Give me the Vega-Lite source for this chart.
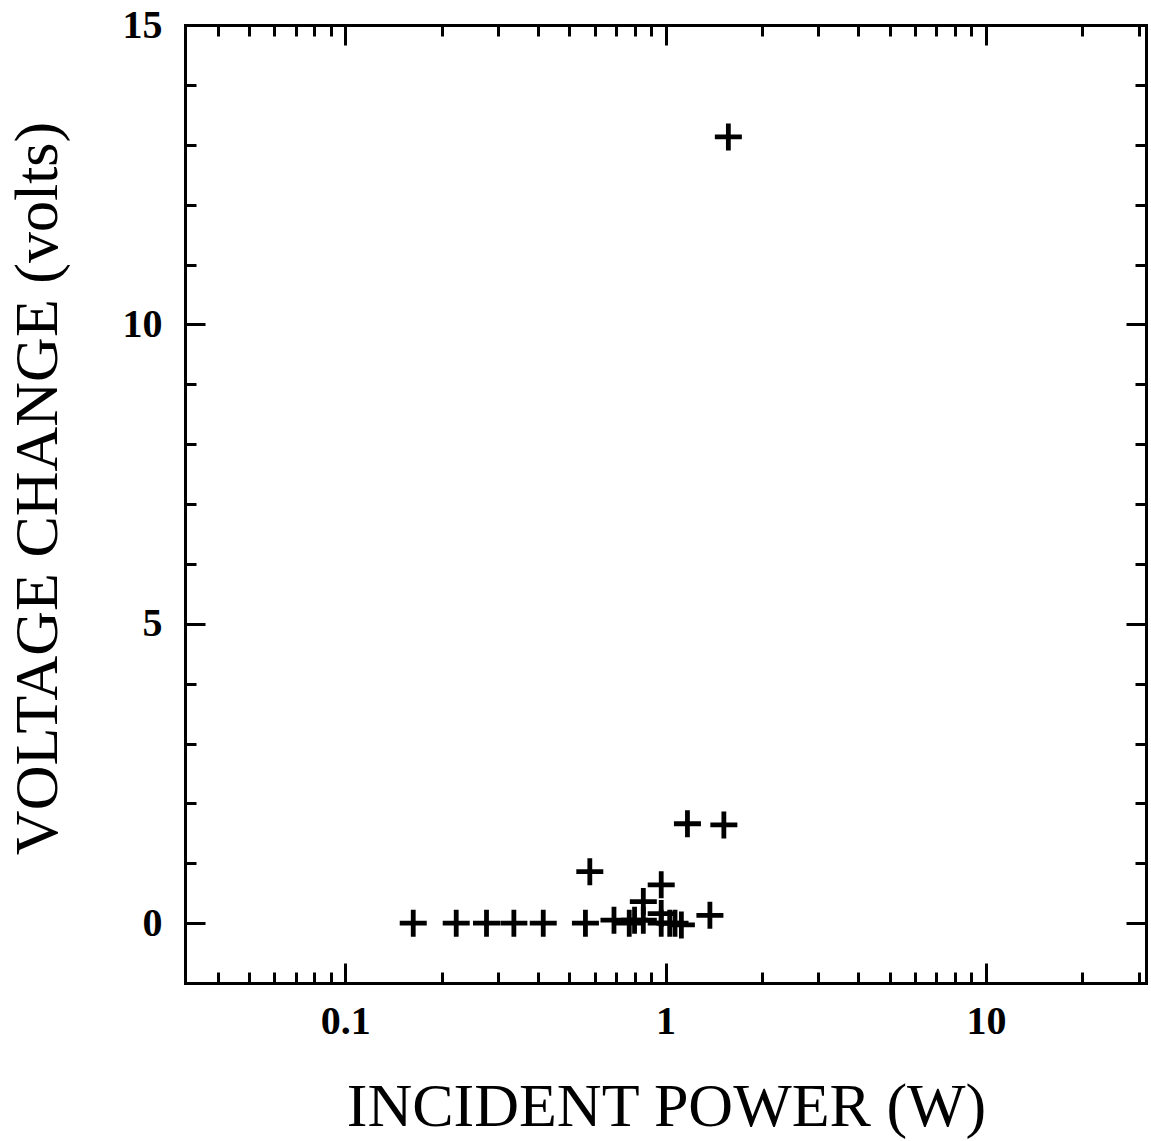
{
  "$schema": "https://vega.github.io/schema/vega-lite/v6.json",
  "autosize": "none",
  "width": 961,
  "height": 958,
  "padding": {"left": 185, "top": 25, "right": 5, "bottom": 158},
  "background": "white",
  "config": {"view": {"stroke": null}},
  "data": {
    "values": [
      {"power": 0.163, "volts": 0},
      {"power": 0.222, "volts": 0},
      {"power": 0.276, "volts": 0},
      {"power": 0.336, "volts": 0},
      {"power": 0.415, "volts": 0},
      {"power": 0.562, "volts": 0},
      {"power": 0.58, "volts": 0.86},
      {"power": 0.69, "volts": 0.05},
      {"power": 0.77, "volts": 0},
      {"power": 0.8, "volts": 0.05},
      {"power": 0.852, "volts": 0.36},
      {"power": 0.852, "volts": 0.05},
      {"power": 0.969, "volts": 0.64},
      {"power": 0.969, "volts": 0.16},
      {"power": 0.969, "volts": 0},
      {"power": 1.03, "volts": 0},
      {"power": 1.07, "volts": 0},
      {"power": 1.12, "volts": -0.03},
      {"power": 1.375, "volts": 0.13},
      {"power": 1.17, "volts": 1.66},
      {"power": 1.52, "volts": 1.64},
      {"power": 1.57, "volts": 13.13}
    ]
  },
  "layer": [
    {
      "mark": {"type": "point", "shape": "M-1,0L1,0M0,-1L0,1", "filled": false, "color": "black", "stroke": "black", "strokeWidth": 4.8, "size": 729, "opacity": 1},
      "encoding": {
        "x": {
          "field": "power", "type": "quantitative",
          "scale": {"type": "log", "domain": [0.0316, 31.6], "nice": false},
          "axis": {
            "orient": "bottom",
            "values": [0.04, 0.05, 0.06, 0.07, 0.08, 0.09, 0.1, 0.2, 0.3, 0.4, 0.5, 0.6, 0.7, 0.8, 0.9, 1, 2, 3, 4, 5, 6, 7, 8, 9, 10, 20, 30],
            "labelExpr": "datum.value == 0.1 ? '0.1' : datum.value == 1 ? '1' : datum.value == 10 ? '10' : ''",
            "tickSize": {"condition": {"test": "datum.value == 0.1 || datum.value == 1 || datum.value == 10", "value": -20}, "value": -11},
            "tickWidth": 3, "tickColor": "black",
            "domainWidth": 3, "domainColor": "black", "domainCap": "square",
            "grid": false,
            "labelFont": "Liberation Serif", "labelFontWeight": "bold", "labelFontSize": 40, "labelColor": "black",
            "labelBaseline": "alphabetic", "labelPadding": 70, "labelFlush": false, "labelOverlap": false,
            "title": "INCIDENT POWER (W)",
            "titleFont": "Liberation Serif", "titleFontWeight": "normal", "titleFontSize": 62, "titleColor": "black",
            "titleBaseline": "alphabetic", "titleAnchor": "middle", "titleX": 481, "titleY": 142
          }
        },
        "y": {
          "field": "volts", "type": "quantitative",
          "scale": {"domain": [-1, 15], "nice": false, "zero": false},
          "axis": {
            "orient": "left",
            "values": [0, 1, 2, 3, 4, 5, 6, 7, 8, 9, 10, 11, 12, 13, 14, 15],
            "labelExpr": "datum.value % 5 == 0 ? datum.label : ''",
            "tickSize": {"condition": {"test": "datum.value % 5 == 0", "value": -20}, "value": -11},
            "tickWidth": 3, "tickColor": "black",
            "domainWidth": 3, "domainColor": "black", "domainCap": "square",
            "grid": false,
            "labelFont": "Liberation Serif", "labelFontWeight": "bold", "labelFontSize": 40, "labelColor": "black",
            "labelBaseline": "middle", "labelAlign": "right", "labelPadding": 43, "labelFlush": false, "labelOverlap": false,
            "title": "VOLTAGE CHANGE (volts)",
            "titleFont": "Liberation Serif", "titleFontWeight": "normal", "titleFontSize": 62, "titleColor": "black",
            "titleAngle": -90, "titleBaseline": "alphabetic", "titleAlign": "center", "titleX": -129, "titleY": 463
          }
        }
      }
    },
    {
      "mark": {"type": "point", "opacity": 0},
      "encoding": {
        "x": {
          "field": "power", "type": "quantitative",
          "axis": {
            "orient": "top",
            "values": [0.04, 0.05, 0.06, 0.07, 0.08, 0.09, 0.1, 0.2, 0.3, 0.4, 0.5, 0.6, 0.7, 0.8, 0.9, 1, 2, 3, 4, 5, 6, 7, 8, 9, 10, 20, 30],
            "labels": false, "title": null,
            "tickSize": {"condition": {"test": "datum.value == 0.1 || datum.value == 1 || datum.value == 10", "value": -20}, "value": -11},
            "tickWidth": 3, "tickColor": "black",
            "domainWidth": 3, "domainColor": "black", "domainCap": "square",
            "grid": false
          }
        },
        "y": {
          "field": "volts", "type": "quantitative",
          "axis": {
            "orient": "right",
            "values": [0, 1, 2, 3, 4, 5, 6, 7, 8, 9, 10, 11, 12, 13, 14, 15],
            "labels": false, "title": null,
            "tickSize": {"condition": {"test": "datum.value % 5 == 0", "value": -20}, "value": -11},
            "tickWidth": 3, "tickColor": "black",
            "domainWidth": 3, "domainColor": "black", "domainCap": "square",
            "grid": false
          }
        }
      }
    }
  ],
  "resolve": {"axis": {"x": "independent", "y": "independent"}}
}
